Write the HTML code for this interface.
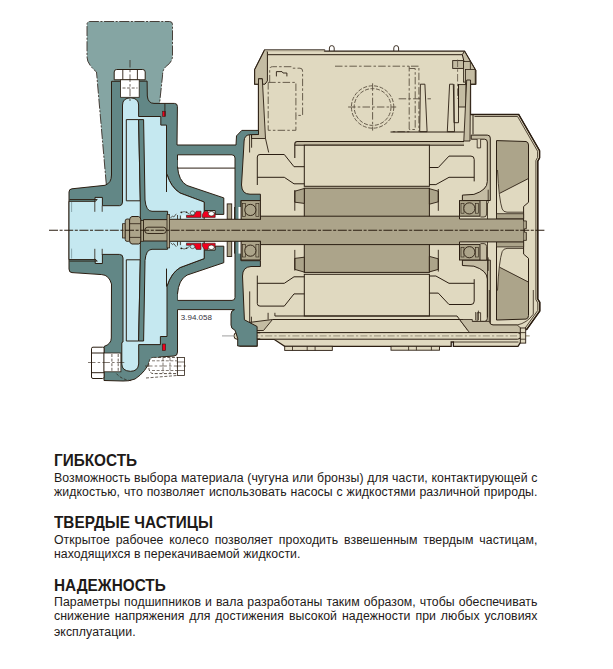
<!DOCTYPE html>
<html><head><meta charset="utf-8"><style>
html,body{margin:0;padding:0;background:#fff;}
body{width:613px;height:669px;position:relative;overflow:hidden;font-family:"Liberation Sans",sans-serif;color:#1e1a18;}
</style></head><body>
<svg width="613" height="669" viewBox="0 0 613 669" style="position:absolute;left:0;top:0"><path d="M264.5,50.2 L324.5,50.2 L324.5,51.2 L464.5,51.2 L475.7,70.4 L475.7,84.2 L470.5,84.2 L470.5,114.5 L518.7,114.5 L539.6,150.6 L539.6,157.9 L537.8,161.2 L537.8,299 L539.8,302.3 L539.8,311 L526.7,329.5 L520.7,329.5 L520.7,342 L518,346.3 L453.4,346.3 L453.4,342 L451.2,342 L451.2,346.3 L284.7,346.3 L274,339.3 L257,339.3 L257,346 L240,346 L238,200 L240,137 L258.5,130.3 L258.5,84.2 L254.7,84.2 L254.7,69.7 Z" fill="#e0d9c0" stroke="#2b1e12" stroke-width="1.3" /><path d="M264.5,50.2 L254.7,69.7 L254.7,84.2 L258.5,84.2 L258.5,78.7 L262.2,78.7 L262.2,84.2 L265,84.2 L267.4,80.9 L267.4,54.7 L267.4,51.2 Z" fill="#c4bca3" stroke="#2b1e12" stroke-width="1.0" /><path d="M264.5,50.2 L324.5,50.2 L324.5,51.2" fill="none" stroke="#2b1e12" stroke-width="1.0" /><rect x="264.8" y="50.2" width="59.7" height="1.3" rx="0" fill="#c4bca3" stroke="none" stroke-width="1.0" /><line x1="267.4" y1="54.7" x2="462.3" y2="54.7" stroke="#2b1e12" stroke-width="1.0" /><path d="M464.5,51.2 L475.7,70.4 L475.7,84.2 L470.5,84.2 L470.5,80 L466.5,80 L466.5,64 L463.8,60.7 L462.3,54.7 Z" fill="#c4bca3" stroke="#2b1e12" stroke-width="1.0" /><rect x="452.7" y="60.6" width="10.8" height="7.8" rx="0" fill="#c4bca3" stroke="#2b1e12" stroke-width="0.9" /><rect x="463.5" y="61.5" width="6.8" height="20.6" rx="0" fill="#c4bca3" stroke="#2b1e12" stroke-width="0.8" /><rect x="465.4" y="69.4" width="9.8" height="14.6" rx="0" fill="#c4bca3" stroke="#2b1e12" stroke-width="0.8" /><line x1="457.6" y1="59.6" x2="457.6" y2="98.7" stroke="#5a4f40" stroke-width="0.8" stroke-dasharray="7.5 2.2 2.5 2.2"/><rect x="458.5" y="84.6" width="7.5" height="22.4" rx="0" fill="#c4bca3" stroke="#2b1e12" stroke-width="0.9" /><path d="M258.5,78.8 L262.3,78.8 L265.5,138.5 L251.5,138.5 L251.5,134.5 L258.5,134.5 Z" fill="#c4bca3" stroke="#2b1e12" stroke-width="0.9" /><line x1="265.5" y1="138.5" x2="268.7" y2="152.5" stroke="#2b1e12" stroke-width="0.9" /><line x1="249.6" y1="134.7" x2="249.6" y2="152.5" stroke="#2b1e12" stroke-width="0.9" /><line x1="251.6" y1="134.7" x2="251.6" y2="147.7" stroke="#2b1e12" stroke-width="0.9" /><path d="M470.5,80 L466.7,80 L463.8,141 L470,141 Z" fill="#c4bca3" stroke="#2b1e12" stroke-width="0.9" /><path d="M329.40000000000003,51 L329.40000000000003,48 Q329.40000000000003,45.6 331.8,45.6 Q334.2,45.6 334.2,48 L334.2,51" fill="none" stroke="#2b1e12" stroke-width="0.9" /><path d="M393.8,51 L393.8,48 Q393.8,45.6 396.2,45.6 Q398.59999999999997,45.6 398.59999999999997,48 L398.59999999999997,51" fill="none" stroke="#2b1e12" stroke-width="0.9" /><path d="M269.7,82.4 L269.7,69 Q269.7,66.7 272.5,66.7 L291.4,66.7 L292.5,68.2 L300,68.2 Q302.6,68.2 302.6,71 L302.6,115.4 L296,115.4" fill="none" stroke="#5a4f40" stroke-width="0.9" stroke-dasharray="7.5 2.2 2.5 2.2"/><rect x="268.2" y="82.4" width="27.7" height="47.9" rx="0" fill="none" stroke="#5a4f40" stroke-width="0.9" stroke-dasharray="7.5 2.2 2.5 2.2"/><path d="M276.4,76.4 L276.4,71.6 L282,71.6 L283,73 L286.9,73 L286.9,76.4" fill="none" stroke="#2b1e12" stroke-width="0.9" /><path d="M335,66.2 L409.2,66.2 L409.2,131.7 L390.5,131.7" fill="none" stroke="#5a4f40" stroke-width="0.9" stroke-dasharray="7.5 2.2 2.5 2.2"/><path d="M409.2,68.5 L415.2,68.5 L415.2,129.5 L409.2,129.5" fill="none" stroke="#5a4f40" stroke-width="0.9" stroke-dasharray="7.5 2.2 2.5 2.2"/><path d="M411,66.2 L418.9,66.2 L418.9,131.7" fill="none" stroke="#5a4f40" stroke-width="0.9" stroke-dasharray="7.5 2.2 2.5 2.2"/><line x1="398.7" y1="98.8" x2="430.9" y2="98.8" stroke="#5a4f40" stroke-width="0.9" stroke-dasharray="7.5 2.2 2.5 2.2"/><circle cx="372.6" cy="107" r="21.2" fill="none" stroke="#5a4f40" stroke-width="0.9" stroke-dasharray="4 1.6"/><circle cx="372.6" cy="107" r="18.4" fill="none" stroke="#5a4f40" stroke-width="0.9" stroke-dasharray="4 1.6"/><line x1="348.1" y1="107" x2="396.2" y2="107" stroke="#5a4f40" stroke-width="0.9" stroke-dasharray="7.5 2.2 2.5 2.2"/><line x1="372.6" y1="83.3" x2="372.6" y2="130.6" stroke="#5a4f40" stroke-width="0.9" stroke-dasharray="7.5 2.2 2.5 2.2"/><path d="M420.4,84.2 L424.9,84.2 L427.1,131.7 L419.7,131.7 Z" fill="#e0d9c0" stroke="#2b1e12" stroke-width="0.9" /><path d="M449.6,84.2 L453.3,84.2 L454.5,131.7 L447.3,131.7 Z" fill="#e0d9c0" stroke="#2b1e12" stroke-width="0.9" /><path d="M454,84.2 L454,122.7 L458.5,122.7 L458.5,84.2" fill="none" stroke="#2b1e12" stroke-width="0.9" /><line x1="390.5" y1="132" x2="463.8" y2="132" stroke="#2b1e12" stroke-width="1.0" /><path d="M294.8,145.2 L294.8,144 Q294.8,141.5 297.3,141.5 L464,141.5 L464,145.2 Z" fill="#c4bca3" stroke="none" stroke-width="1.0" /><path d="M294.8,158 L294.8,144 Q294.8,141.5 297.3,141.5 L464,141.5" fill="none" stroke="#2b1e12" stroke-width="1.1" /><line x1="294.8" y1="145.2" x2="464" y2="145.2" stroke="#2b1e12" stroke-width="1.0" /><rect x="304.3" y="145.2" width="125.1" height="41.1" rx="0" fill="#e0d9c0" stroke="#2b1e12" stroke-width="1.0" /><rect x="304.3" y="274.3" width="125.1" height="41.69999999999999" rx="0" fill="#e0d9c0" stroke="#2b1e12" stroke-width="1.0" /><rect x="304.3" y="188.2" width="125.1" height="84.19999999999999" rx="0" fill="#aca48a" stroke="#2b1e12" stroke-width="1.0" /><path d="M294.8,191.2 L304.3,188.5 L304.3,203.4 L294.8,202.2 Z" fill="#aca48a" stroke="#2b1e12" stroke-width="0.9" /><path d="M 294.8,269.4 L 304.3,272.1 L 304.3,257.2 L 294.8,258.4 Z" fill="#aca48a" stroke="#2b1e12" stroke-width="0.9" /><path d="M294.8,190 L294.8,210.7" fill="none" stroke="#2b1e12" stroke-width="0.9" /><path d="M 294.8,270.6 L 294.8,249.9" fill="none" stroke="#2b1e12" stroke-width="0.9" /><path d="M429.4,188.7 L438.3,191.2 L438.3,201.8 L429.4,204.2 Z" fill="#aca48a" stroke="#2b1e12" stroke-width="0.9" /><path d="M 429.4,271.9 L 438.3,269.4 L 438.3,258.8 L 429.4,256.4 Z" fill="#aca48a" stroke="#2b1e12" stroke-width="0.9" /><path d="M438.3,189 L438.3,210.8" fill="none" stroke="#2b1e12" stroke-width="0.9" /><path d="M 438.3,271.6 L 438.3,249.8" fill="none" stroke="#2b1e12" stroke-width="0.9" /><path d="M257.3,185 L257.3,157 Q257.3,154.5 260,154.5 L284.3,154.5 L294,166.7 L304.3,166.7" fill="none" stroke="#2b1e12" stroke-width="1.0" /><path d="M 257.3,275.6 L 257.3,303.6 Q 257.3,306.1 260,306.1 L 284.3,306.1 L 294,293.9 L 304.3,293.9" fill="none" stroke="#2b1e12" stroke-width="1.0" /><path d="M257.3,177.3 L284.3,177.3 L294,183.8 L304.3,183.8" fill="none" stroke="#2b1e12" stroke-width="1.0" /><path d="M 257.3,283.3 L 284.3,283.3 L 294,276.8 L 304.3,276.8" fill="none" stroke="#2b1e12" stroke-width="1.0" /><path d="M429.4,167.5 L438.3,167.5 L449,156.1 L471,156.1 Q474.2,156.1 474.2,159.4 L474.2,181.4" fill="none" stroke="#2b1e12" stroke-width="1.0" /><path d="M 429.4,293.1 L 438.3,293.1 L 449,304.5 L 471,304.5 Q 474.2,304.5 474.2,301.2 L 474.2,279.2" fill="none" stroke="#2b1e12" stroke-width="1.0" /><path d="M429.4,184.6 L435.9,184.6 L449,177.3 L474.2,177.3" fill="none" stroke="#2b1e12" stroke-width="1.0" /><path d="M 429.4,276.0 L 435.9,276.0 L 449,283.3 L 474.2,283.3" fill="none" stroke="#2b1e12" stroke-width="1.0" /><path d="M471.2,135.1 L487.3,135.1 Q490.3,135.1 490.3,138.1 L490.3,200.5 L462.4,200.5 L462.4,195.1 L473.9,194.4 Q487.3,190 487.3,181.6 L487.3,142 Q487.3,139.2 484.5,139.2 L471.2,139.2 Z" fill="#c4bca3" stroke="#2b1e12" stroke-width="1.0" /><path d="M 471.2,325.5 L 487.3,325.5 Q 490.3,325.5 490.3,322.5 L 490.3,260.1 L 462.4,260.1 L 462.4,265.5 L 473.9,266.2 Q 487.3,270.6 487.3,279.0 L 487.3,318.6 Q 487.3,321.4 484.5,321.4 L 471.2,321.4 Z" fill="#c4bca3" stroke="#2b1e12" stroke-width="1.0" /><path d="M488.2,189.7 L488.2,203.2" fill="none" stroke="#2b1e12" stroke-width="0.8" /><path d="M 488.2,270.9 L 488.2,257.4" fill="none" stroke="#2b1e12" stroke-width="0.8" /><path d="M477.2,139.2 L477.2,147.9 L480.6,147.9 L480.6,139.2" fill="#e0d9c0" stroke="#2b1e12" stroke-width="0.8" /><path d="M 477.2,321.4 L 477.2,312.7 L 480.6,312.7 L 480.6,321.4" fill="#e0d9c0" stroke="#2b1e12" stroke-width="0.8" /><path d="M480.5,200.5 L486.6,200.5 L486.6,214 Q486.6,217 484,217 L480.5,217" fill="#c4bca3" stroke="#2b1e12" stroke-width="0.8" /><path d="M 480.5,260.1 L 486.6,260.1 L 486.6,246.6 Q 486.6,243.6 484,243.6 L 480.5,243.6" fill="#c4bca3" stroke="#2b1e12" stroke-width="0.8" /><path d="M496.5,140.6 L526,141.5 Q528.5,142 528.5,145 L528.5,178.5 L499.7,193.3 L497.5,170 L496.5,170 Z" fill="#aca48a" stroke="none" stroke-width="1.0" /><path d="M 496.5,320.0 L 526,319.1 Q 528.5,318.6 528.5,315.6 L 528.5,282.1 L 499.7,267.3 L 497.5,290.6 L 496.5,290.6 Z" fill="#aca48a" stroke="none" stroke-width="1.0" /><path d="M496.5,218.8 L496.5,140.6 L526,141.5 Q528.5,142 528.5,145 L528.5,202.3 L523.6,206.5 L523.6,218.8" fill="none" stroke="#2b1e12" stroke-width="1.0" /><path d="M 496.5,241.8 L 496.5,320.0 L 526,319.1 Q 528.5,318.6 528.5,315.6 L 528.5,258.3 L 523.6,254.1 L 523.6,241.8" fill="none" stroke="#2b1e12" stroke-width="1.0" /><path d="M528.5,178.5 L499.7,193.3" fill="none" stroke="#2b1e12" stroke-width="0.9" /><path d="M 528.5,282.1 L 499.7,267.3" fill="none" stroke="#2b1e12" stroke-width="0.9" /><path d="M497.5,170 Q499,200 502.2,209 Q503.5,212.2 507,212.2 L523.6,212.2" fill="none" stroke="#2b1e12" stroke-width="0.8" /><path d="M 497.5,290.6 Q 499,260.6 502.2,251.6 Q 503.5,248.4 507,248.4 L 523.6,248.4" fill="none" stroke="#2b1e12" stroke-width="0.8" /><path d="M496.5,213.7 L523.6,213.7 L523.6,219 L496.5,219 Z" fill="#aca48a" stroke="#2b1e12" stroke-width="0.8" /><path d="M 496.5,246.9 L 523.6,246.9 L 523.6,241.6 L 496.5,241.6 Z" fill="#aca48a" stroke="#2b1e12" stroke-width="0.8" /><path d="M473,114.5 L518.7,114.5 L539.6,150.6 L539.6,157.9 L537.8,161.2 L537.8,299 L539.8,302.3 L539.8,311 L526.7,329.5" fill="none" stroke="#2b1e12" stroke-width="1.1" /><path d="M474.5,116.5 L517.6,116.5 L537.6,151.2 L537.6,157.3 L535.9,160.5 L535.9,299.6 L537.8,302.9 L537.8,310.4 L525.2,328" fill="none" stroke="#2b1e12" stroke-width="0.8" /><path d="M473,114.5 L473,134.3" fill="none" stroke="#2b1e12" stroke-width="1.0" /><path d="M489.3,290 L489.3,321 Q489.3,325 493,325 L517.2,325 Q527,323 533.3,314.2 L533.3,290" fill="none" stroke="#2b1e12" stroke-width="0.8" /><path d="M487.5,203 L487.5,317" fill="none" stroke="#2b1e12" stroke-width="0.8" /><path d="M249.7,322.4 L272.5,319.5 L263.5,330.5 L249.7,330.5 Z" fill="#c4bca3" stroke="#2b1e12" stroke-width="0.9" /><line x1="272.5" y1="319.5" x2="463" y2="319.5" stroke="#2b1e12" stroke-width="1.0" /><line x1="274.9" y1="316" x2="457" y2="316" stroke="#2b1e12" stroke-width="1.0" /><path d="M457,316 L467.8,330.4" fill="none" stroke="#2b1e12" stroke-width="1.0" /><path d="M459.6,319.5 L472.3,319.5 L472.3,321.4 L489.3,321.4 Q490,325 493,325 L517.2,325 L520.7,328 L520.7,332.6 L469.5,332.6 Z" fill="#c4bca3" stroke="#2b1e12" stroke-width="0.8" /><rect x="234" y="332.6" width="286.7" height="6.6" rx="3" fill="#e0d9c0" stroke="#2b1e12" stroke-width="1.0" /><line x1="238" y1="335.9" x2="529.7" y2="335.9" stroke="#a59e88" stroke-width="1.1" stroke-dasharray="7 2.2 2.2 2.2"/><line x1="222" y1="335.9" x2="234" y2="335.9" stroke="#a8a8a8" stroke-width="1.1" /><rect x="520.3" y="328" width="5.4" height="15.1" rx="0" fill="#e0d9c0" stroke="#2b1e12" stroke-width="0.9" /><line x1="520.3" y1="332.6" x2="525.7" y2="332.6" stroke="#2b1e12" stroke-width="0.8" /><line x1="520.3" y1="339.2" x2="525.7" y2="339.2" stroke="#2b1e12" stroke-width="0.8" /><line x1="237.7" y1="332.6" x2="260.2" y2="332.6" stroke="#2b1e12" stroke-width="1.4" /><line x1="237.7" y1="339.2" x2="260.2" y2="339.2" stroke="#2b1e12" stroke-width="1.4" /><line x1="453.4" y1="342" x2="518.5" y2="342" stroke="#2b1e12" stroke-width="0.8" /><rect x="284.7" y="346.3" width="47.6" height="4.1" rx="0" fill="#e0d9c0" stroke="#2b1e12" stroke-width="0.9" /><line x1="292.5" y1="346.3" x2="292.5" y2="350.4" stroke="#2b1e12" stroke-width="0.8" /><line x1="307.2" y1="346.3" x2="307.2" y2="350.4" stroke="#2b1e12" stroke-width="0.8" /><line x1="315.1" y1="346.3" x2="315.1" y2="350.4" stroke="#2b1e12" stroke-width="0.8" /><rect x="391" y="346.3" width="48.5" height="3.9" rx="0" fill="#e0d9c0" stroke="#2b1e12" stroke-width="0.9" /><line x1="408.6" y1="346.3" x2="408.6" y2="350.2" stroke="#2b1e12" stroke-width="0.8" /><line x1="416.4" y1="346.3" x2="416.4" y2="350.2" stroke="#2b1e12" stroke-width="0.8" /><line x1="431.4" y1="346.3" x2="431.4" y2="350.2" stroke="#2b1e12" stroke-width="0.8" /><line x1="249.7" y1="291.4" x2="249.7" y2="325.8" stroke="#2b1e12" stroke-width="0.9" /><line x1="251.4" y1="316.7" x2="251.4" y2="322.6" stroke="#2b1e12" stroke-width="0.9" /><line x1="268.1" y1="312.8" x2="268.1" y2="319.5" stroke="#2b1e12" stroke-width="0.9" /><line x1="274.9" y1="312.8" x2="274.9" y2="316" stroke="#2b1e12" stroke-width="0.9" /><line x1="478.4" y1="310.6" x2="478.4" y2="320.3" stroke="#2b1e12" stroke-width="0.8" /><line x1="475.7" y1="312" x2="475.7" y2="320.3" stroke="#2b1e12" stroke-width="0.8" /><path d="M87,24.5 Q87,21.5 90,21.5 L169.5,21.5 Q172.5,21.5 172.5,24.5 L172.5,56 Q172.5,62 166,66.5 Q162.5,69.5 162.5,76 L159.5,106 L112,106 L112,190 L106.3,186 L96.5,72 Q87,64 87,57 Z" fill="#85a5a3" stroke="none" stroke-width="1.0" /><path d="M106.3,184.4 L96.5,72 Q87,64 87,57 L87,24.5 Q87,21.5 90,21.5 L169.5,21.5 Q172.5,21.5 172.5,24.5 L172.5,56 Q172.5,62 166,66.5 Q162.5,69.5 162.5,76 L159.5,104" fill="none" stroke="#3a2f28" stroke-width="0.9" stroke-dasharray="10 1.6 2 1.6"/><path d="M111.5,81.3 L147.1,81.1 L147.3,96 Q148,103.4 154,103.4 L174.4,103.4 Q177.4,103.4 177.4,106.4 L177,145 L236,145 L236.5,135.9 L241.8,130.4 L258.5,130.4 L258.5,134.5 L249.6,134.7 Q244.3,135.3 244.1,141 L243.6,150 L241.5,185 Q241.8,194.2 250,194.2 L260.4,194.2 L260.4,200.6 L241.1,200.6 L241.1,260.7 L260.4,260.7 L260.4,266.5 L251,266.5 Q242.5,267 242.5,276 L244.4,319.8 L257.1,326.5 L257.1,346 L237.7,346 L237.7,338.5 L236,333 L234.8,330 Q231,329 231,325 L231,314 Q231,310.5 234.5,309.6 L177.5,309.6 L177.5,352 Q177.5,356 174,356 L160,357 L150.5,359.6 Q146,372 135,379 Q128,381.5 123,381 L104,380.5 L104,346.5 Q111.3,344 111.3,338 L111.5,284 Q109,275 101.8,274.6 L72,272.6 Q69,272.6 69,269 L69,192 Q69,189 72,188.8 L105,185.3 Q111.5,183 111.5,175 Z" fill="#628786" stroke="#2b1e12" stroke-width="1.0" /><path d="M177.5,154.8 L232,154.8 Q235,155 235,158 L235,297.5 Q235,300.4 232,300.4 L177.5,300.4 Z" fill="#ffffff" stroke="#2b1e12" stroke-width="1.0" /><line x1="177.5" y1="168.1" x2="235" y2="168.1" stroke="#2b1e12" stroke-width="1.0" /><rect x="205" y="197" width="29" height="66.6" rx="0" fill="#ffffff" stroke="none" stroke-width="1.0" /><path d="M238.5,207 L241.1,207 L241.1,219.3 L238.5,219.3 Z" fill="#ffffff" stroke="none" stroke-width="1.0" /><path d="M 238.5,253.6 L 241.1,253.6 L 241.1,241.3 L 238.5,241.3 Z" fill="#ffffff" stroke="none" stroke-width="1.0" /><path d="M234.5,207 L234.5,219.3" fill="none" stroke="#2b1e12" stroke-width="0.9" /><path d="M 234.5,253.6 L 234.5,241.3" fill="none" stroke="#2b1e12" stroke-width="0.9" /><path d="M177.5,160 L177.5,166.6 Q178.5,181 187,185.5 L223.8,197.9 L223.8,214.4 L215.2,214.4 L215.2,210.5 L204.2,210.5 L204.2,202 L180,193 Q171,187.5 167,174.4 L167,160 Z" fill="#628786" stroke="none" stroke-width="1.0" /><path d="M 177.5,300.6 L 177.5,294.0 Q 178.5,279.6 187,275.1 L 223.8,262.7 L 223.8,246.2 L 215.2,246.2 L 215.2,250.1 L 204.2,250.1 L 204.2,258.6 L 180,267.6 Q 171,273.1 167,286.2 L 167,300.6 Z" fill="#628786" stroke="none" stroke-width="1.0" /><path d="M177.5,166.6 Q178.5,181 187,185.5 L223.8,197.9 L223.8,214.4 L215.2,214.4 L215.2,210.5 L204.2,210.5 L204.2,202 L180,193 Q171,187.5 167,174.4" fill="none" stroke="#2b1e12" stroke-width="1.0" /><path d="M 177.5,294.0 Q 178.5,279.6 187,275.1 L 223.8,262.7 L 223.8,246.2 L 215.2,246.2 L 215.2,250.1 L 204.2,250.1 L 204.2,258.6 L 180,267.6 Q 171,273.1 167,286.2" fill="none" stroke="#2b1e12" stroke-width="1.0" /><path d="M69,201.3 L95,201.3 L95,197.4 L102.4,197.4 L102.4,205.7 L119.5,205.7 Q122.5,205.5 122.5,202 L122.5,105 Q122.5,98.2 130.5,97.8 Q138.6,98.2 138.6,105 L138.6,116.5 L160.8,116.5 L160.8,125.1 L166.5,125.1 L166.5,174 L167,174.4 Q171,187.5 180,193 L204.2,202 L204.2,258.6 L180,267.6 Q171,273.1 167,286.2 L167,336.5 L160.4,336.5 L160.4,344.6 L138.7,344.6 L138.7,364 Q138,371.3 130.5,371.3 Q121.8,371 121.8,364 L121.8,342.6 L123,342 L123,258 Q123,254.4 119.4,254.4 L102.4,254.4 L102.4,263.5 L95.2,263.5 L95.2,259.6 L69,259.6 Z" fill="#c5e8f0" stroke="#2b1e12" stroke-width="1.0" /><line x1="166.5" y1="174" x2="166.5" y2="192" stroke="#2b1e12" stroke-width="1.0" /><line x1="166.5" y1="286.6" x2="166.5" y2="268.6" stroke="#2b1e12" stroke-width="1.0" /><path d="M69.5,199.5 L97.3,199.5 L94.8,201.7" fill="none" stroke="#2b1e12" stroke-width="0.9" /><path d="M 69.5,261.1 L 97.3,261.1 L 94.8,258.9" fill="none" stroke="#2b1e12" stroke-width="0.9" /><path d="M94.8,201.3 L94.8,211.8" fill="none" stroke="#2b1e12" stroke-width="0.8" /><path d="M 94.8,259.3 L 94.8,248.8" fill="none" stroke="#2b1e12" stroke-width="0.8" /><path d="M102.2,205.7 L102.2,211.8" fill="none" stroke="#2b1e12" stroke-width="0.8" /><path d="M 102.2,254.9 L 102.2,248.8" fill="none" stroke="#2b1e12" stroke-width="0.8" /><path d="M71.6,202 L71.6,212" fill="none" stroke="#8aa9b0" stroke-width="1.0" /><path d="M 71.6,258.6 L 71.6,248.6" fill="none" stroke="#8aa9b0" stroke-width="1.0" /><path d="M126.3,119.6 L138.6,119.6 L140.3,200.8 L126.3,200.8 Z" fill="#c5e8f0" stroke="#2b1e12" stroke-width="1.0" /><path d="M 126.3,341.0 L 138.6,341.0 L 140.3,259.8 L 126.3,259.8 Z" fill="#c5e8f0" stroke="#2b1e12" stroke-width="1.0" /><path d="M138.6,119.6 L143.6,119.6 L145,200 Q146,211.3 152,211.3 L167.6,211.3 L167.6,249.3 L152,249.3 Q146,249.3 145,260.6 L143.6,341.0 L138.6,341.0 L140.3,259.8 L140.3,200.8 Z" fill="#628786" stroke="#2b1e12" stroke-width="1.0" /><path d="M114.2,79.8 L114.2,72 Q114.2,69.5 116.7,69.5 L142.7,69.5 Q145.2,69.5 145.2,72 L145.2,79.8 Z" fill="#ffffff" stroke="#2b1e12" stroke-width="1.0" /><line x1="122.8" y1="69.5" x2="122.8" y2="79.8" stroke="#2b1e12" stroke-width="0.9" /><line x1="137.4" y1="69.5" x2="137.4" y2="79.8" stroke="#2b1e12" stroke-width="0.9" /><rect x="120.6" y="79.8" width="18.6" height="17.5" rx="0" fill="#ffffff" stroke="#2b1e12" stroke-width="0.8" /><line x1="122.5" y1="88" x2="137.5" y2="88" stroke="#2b1e12" stroke-width="0.7" stroke-dasharray="3 1.6"/><line x1="130" y1="60" x2="130" y2="102" stroke="#2b1e12" stroke-width="0.7" stroke-dasharray="7.5 2.2 2.5 2.2"/><rect x="162.5" y="111.2" width="2.9" height="5.3" rx="0" fill="#f0001e" stroke="#2b1e12" stroke-width="0.5" /><line x1="164.9" y1="103.4" x2="164.9" y2="116.5" stroke="#2b1e12" stroke-width="0.9" /><rect x="162.3" y="344" width="3.2" height="6.5" rx="0" fill="#f0001e" stroke="#2b1e12" stroke-width="0.6" /><rect x="91.5" y="347.2" width="12.6" height="31.3" rx="1.5" fill="#ffffff" stroke="#2b1e12" stroke-width="1.0" /><line x1="91.5" y1="353" x2="104" y2="353" stroke="#2b1e12" stroke-width="1.0" /><line x1="91.5" y1="372.7" x2="104" y2="372.7" stroke="#2b1e12" stroke-width="1.0" /><rect x="104" y="353" width="16.9" height="18.8" rx="0" fill="#ffffff" stroke="#2b1e12" stroke-width="0.8" /><line x1="111.9" y1="354" x2="111.9" y2="371" stroke="#2b1e12" stroke-width="0.7" stroke-dasharray="3 1.6"/><line x1="118.2" y1="354" x2="118.2" y2="371" stroke="#2b1e12" stroke-width="0.7" stroke-dasharray="3 1.6"/><path d="M116.4,373.6 Q122,380 132.5,380.8" fill="none" stroke="#2b1e12" stroke-width="0.7" stroke-dasharray="3 1.6"/><path d="M146,378 L178.3,375.4" fill="none" stroke="#2b1e12" stroke-width="0.7" stroke-dasharray="3 1.6"/><line x1="88" y1="362.5" x2="125" y2="362.5" stroke="#2b1e12" stroke-width="0.6" stroke-dasharray="7.5 2.2 2.5 2.2"/><path d="M153.5,357.4 L177.4,357.4 L177.4,373.6 L153.5,373.6 Q148.7,373.6 148.7,365.5 Q148.7,357.4 153.5,357.4 Z" fill="#ffffff" stroke="#2b1e12" stroke-width="0.8" stroke-dasharray="3 1.6"/><rect x="177.4" y="357.4" width="7.2" height="18" rx="0" fill="#ffffff" stroke="#2b1e12" stroke-width="0.8" /><line x1="152" y1="360.8" x2="177" y2="360.8" stroke="#2b1e12" stroke-width="0.6" stroke-dasharray="3 1.6"/><line x1="152" y1="370.5" x2="177" y2="370.5" stroke="#2b1e12" stroke-width="0.6" stroke-dasharray="3 1.6"/><line x1="163" y1="358" x2="163" y2="373" stroke="#2b1e12" stroke-width="0.6" stroke-dasharray="3 1.6"/><line x1="170" y1="358" x2="170" y2="373" stroke="#2b1e12" stroke-width="0.6" stroke-dasharray="3 1.6"/><line x1="177.4" y1="362" x2="184.6" y2="362" stroke="#2b1e12" stroke-width="0.6" /><line x1="177.4" y1="370.5" x2="184.6" y2="370.5" stroke="#2b1e12" stroke-width="0.6" /><line x1="145" y1="366" x2="188" y2="366" stroke="#2b1e12" stroke-width="0.6" stroke-dasharray="7.5 2.2 2.5 2.2"/><path d="M186.5,217.4 L186.5,215.3 L194,215.3 L196.3,211.2 L201,211.2 L201,217.4 Z" fill="#f0001e" stroke="#2b1e12" stroke-width="0.6" /><path d="M202.3,217.4 L202.3,214.5 L204.5,211.2 L208,211.2 L208.5,213 L215.2,213 L215.2,217.4 Z" fill="#f0001e" stroke="#2b1e12" stroke-width="0.6" /><path d="M 186.5,243.2 L 186.5,245.3 L 194,245.3 L 196.3,249.4 L 201,249.4 L 201,243.2 Z" fill="#f0001e" stroke="#2b1e12" stroke-width="0.6" /><path d="M 202.3,243.2 L 202.3,246.1 L 204.5,249.4 L 208,249.4 L 208.5,247.6 L 215.2,247.6 L 215.2,243.2 Z" fill="#f0001e" stroke="#2b1e12" stroke-width="0.6" /><ellipse cx="211.3" cy="213.7" rx="3" ry="2.3" fill="#ffffff" stroke="#2b1e12" stroke-width="0.7"/><ellipse cx="192.5" cy="213.0" rx="2.3" ry="2" fill="#c5e8f0" stroke="#2b1e12" stroke-width="0.6"/><ellipse cx="211.3" cy="247.29999999999998" rx="3" ry="2.3" fill="#ffffff" stroke="#2b1e12" stroke-width="0.7"/><ellipse cx="192.5" cy="246.6" rx="2.3" ry="2" fill="#c5e8f0" stroke="#2b1e12" stroke-width="0.6"/><path d="M170.5,218 L172.5,216 L173.8,217 L176.3,213.8" fill="none" stroke="#2b1e12" stroke-width="0.7" /><path d="M 170.5,242.6 L 172.5,244.6 L 173.8,243.6 L 176.3,246.8" fill="none" stroke="#2b1e12" stroke-width="0.7" /><path d="M177.5,215 L177.5,219.2" fill="none" stroke="#2b1e12" stroke-width="0.8" /><path d="M 177.5,245.6 L 177.5,241.4" fill="none" stroke="#2b1e12" stroke-width="0.8" /><path d="M180.4,215.5 L180.4,219.2" fill="none" stroke="#2b1e12" stroke-width="0.8" /><path d="M 180.4,245.1 L 180.4,241.4" fill="none" stroke="#2b1e12" stroke-width="0.8" /><path d="M181.5,216.5 Q181.5,215 183.5,215 Q185.8,215 185.8,216.8 L185.8,219 L181.5,219 Z" fill="#e4f4f8" stroke="none" stroke-width="1.0" /><path d="M 181.5,244.1 Q 181.5,245.6 183.5,245.6 Q 185.8,245.6 185.8,243.8 L 185.8,241.6 L 181.5,241.6 Z" fill="#e4f4f8" stroke="none" stroke-width="1.0" /><path d="M182,212.2 Q184,211 186.3,212.2 L189.5,214" fill="none" stroke="#2b1e12" stroke-width="0.6" /><path d="M 182,248.4 Q 184,249.6 186.3,248.4 L 189.5,246.6" fill="none" stroke="#2b1e12" stroke-width="0.6" /><circle cx="181.3" cy="212.3" r="0.9" fill="#2b1e12" stroke="none" stroke-width="1.0" /><circle cx="186.6" cy="212.3" r="0.8" fill="#2b1e12" stroke="none" stroke-width="1.0" /><circle cx="181.3" cy="248.3" r="0.9" fill="#2b1e12" stroke="none" stroke-width="1.0" /><circle cx="186.6" cy="248.3" r="0.8" fill="#2b1e12" stroke="none" stroke-width="1.0" /><rect x="227.2" y="203.9" width="4.5" height="15.4" rx="0" fill="#aca48a" stroke="#2b1e12" stroke-width="0.9" /><rect x="227.2" y="241.3" width="4.5" height="15.2" rx="0" fill="#aca48a" stroke="#2b1e12" stroke-width="0.9" /><path d="M143.5,219.6 L167.6,219.6 L167.6,219.3 L260.4,219.3 L260.4,216.2 L459.5,216.2 L459.5,219 L523.6,219 L523.6,241.9 L459.5,241.9 L459.5,244.6 L260.4,244.6 L260.4,241.3 L167.6,241.3 L167.6,241 L143.5,241 Z" fill="#aca48a" stroke="#2b1e12" stroke-width="1.0" /><path d="M523.6,220.9 L526.4,220.9 L526.4,228.7 L524.5,228.7 L524.5,232.3 L526.4,232.3 L526.4,240.4 L523.6,240.4" fill="#aca48a" stroke="#2b1e12" stroke-width="0.8" /><rect x="167" y="214.6" width="2.6" height="33.3" rx="0" fill="#aca48a" stroke="#2b1e12" stroke-width="0.8" /><rect x="144.8" y="227.2" width="21.5" height="6.3" rx="3" fill="#aca48a" stroke="#2b1e12" stroke-width="0.9" /><rect x="122.6" y="223.7" width="3" height="14.3" rx="0" fill="#aca48a" stroke="#2b1e12" stroke-width="0.8" /><rect x="125.2" y="219" width="5" height="22.4" rx="2" fill="#aca48a" stroke="#2b1e12" stroke-width="0.9" /><path d="M132,216.5 L138.5,216.5 Q140.9,217 140.9,220 L140.9,240.6 Q140.9,243.6 138.5,244 L132,244 Q129.6,243.6 129.6,240.6 L129.6,220 Q129.6,217 132,216.5 Z" fill="#aca48a" stroke="#2b1e12" stroke-width="1.0" /><line x1="129.6" y1="223.7" x2="140.9" y2="223.7" stroke="#2b1e12" stroke-width="0.8" /><line x1="129.6" y1="237.4" x2="140.9" y2="237.4" stroke="#2b1e12" stroke-width="0.8" /><rect x="140.9" y="220.5" width="2.6" height="20.8" rx="0" fill="#aca48a" stroke="#2b1e12" stroke-width="0.8" /><rect x="241.1" y="200.6" width="19.3" height="18.700000000000017" rx="0" fill="#aca48a" stroke="#2b1e12" stroke-width="1.0" /><rect x="242.6" y="203.6" width="3" height="12.700000000000017" rx="0" fill="#aca48a" stroke="#2b1e12" stroke-width="0.6" /><rect x="255.89999999999998" y="203.6" width="3" height="12.700000000000017" rx="0" fill="#aca48a" stroke="#2b1e12" stroke-width="0.6" /><circle cx="250.35" cy="209.95" r="5.6" fill="#aca48a" stroke="#2b1e12" stroke-width="0.9" /><rect x="241.1" y="241.3" width="19.3" height="18.69999999999999" rx="0" fill="#aca48a" stroke="#2b1e12" stroke-width="1.0" /><rect x="242.6" y="244.3" width="3" height="12.699999999999989" rx="0" fill="#aca48a" stroke="#2b1e12" stroke-width="0.6" /><rect x="255.89999999999998" y="244.3" width="3" height="12.699999999999989" rx="0" fill="#aca48a" stroke="#2b1e12" stroke-width="0.6" /><circle cx="250.35" cy="250.65" r="5.6" fill="#aca48a" stroke="#2b1e12" stroke-width="0.9" /><rect x="459.5" y="200.6" width="20.5" height="15.599999999999994" rx="0" fill="#aca48a" stroke="#2b1e12" stroke-width="1.0" /><rect x="461.0" y="203.6" width="3" height="9.599999999999994" rx="0" fill="#aca48a" stroke="#2b1e12" stroke-width="0.6" /><rect x="475.5" y="203.6" width="3" height="9.599999999999994" rx="0" fill="#aca48a" stroke="#2b1e12" stroke-width="0.6" /><circle cx="469.35" cy="208.39999999999998" r="5.6" fill="#aca48a" stroke="#2b1e12" stroke-width="0.9" /><rect x="459.5" y="244.4" width="20.5" height="15.599999999999994" rx="0" fill="#aca48a" stroke="#2b1e12" stroke-width="1.0" /><rect x="461.0" y="247.4" width="3" height="9.599999999999994" rx="0" fill="#aca48a" stroke="#2b1e12" stroke-width="0.6" /><rect x="475.5" y="247.4" width="3" height="9.599999999999994" rx="0" fill="#aca48a" stroke="#2b1e12" stroke-width="0.6" /><circle cx="469.35" cy="252.2" r="5.6" fill="#aca48a" stroke="#2b1e12" stroke-width="0.9" /><line x1="49" y1="230.3" x2="545" y2="230.3" stroke="#2b1e12" stroke-width="1.1" stroke-dasharray="9 1.6 3 1.6"/><text x="180.8" y="319.8" font-family="Liberation Sans" font-size="8" fill="#34303c">3.94.058</text></svg>
<div style="position:absolute;left:54px;top:452.32px;font-size:16.4px;line-height:1;white-space:pre;letter-spacing:0px;word-spacing:0.000px;font-weight:bold;transform:scaleX(0.935);transform-origin:0 0;">ГИБКОСТЬ</div><div style="position:absolute;left:54px;top:471.59px;font-size:12.3px;line-height:1;white-space:pre;letter-spacing:0.06px;word-spacing:0.217px;">Возможность выбора материала (чугуна или бронзы) для части, контактирующей с</div><div style="position:absolute;left:54px;top:485.59px;font-size:12.3px;line-height:1;white-space:pre;letter-spacing:0.06px;word-spacing:0.363px;">жидкостью, что позволяет использовать насосы с жидкостями различной природы.</div><div style="position:absolute;left:54px;top:514.22px;font-size:16.4px;line-height:1;white-space:pre;letter-spacing:0px;word-spacing:0.000px;font-weight:bold;transform:scaleX(0.935);transform-origin:0 0;">ТВЕРДЫЕ ЧАСТИЦЫ</div><div style="position:absolute;left:54px;top:533.59px;font-size:12.3px;line-height:1;white-space:pre;letter-spacing:0.06px;word-spacing:2.304px;">Открытое рабочее колесо позволяет проходить взвешенным твердым частицам,</div><div style="position:absolute;left:54px;top:548.19px;font-size:12.3px;line-height:1;white-space:pre;letter-spacing:0.06px;word-spacing:0.000px;">находящихся в перекачиваемой жидкости.</div><div style="position:absolute;left:54px;top:576.92px;font-size:16.4px;line-height:1;white-space:pre;letter-spacing:0px;word-spacing:0.000px;font-weight:bold;transform:scaleX(0.935);transform-origin:0 0;">НАДЕЖНОСТЬ</div><div style="position:absolute;left:54px;top:595.59px;font-size:12.3px;line-height:1;white-space:pre;letter-spacing:0.06px;word-spacing:0.486px;">Параметры подшипников и вала разработаны таким образом, чтобы обеспечивать</div><div style="position:absolute;left:54px;top:609.99px;font-size:12.3px;line-height:1;white-space:pre;letter-spacing:0.06px;word-spacing:1.416px;">снижение напряжения для достижения высокой надежности при любых условиях</div><div style="position:absolute;left:54px;top:625.59px;font-size:12.3px;line-height:1;white-space:pre;letter-spacing:0.06px;word-spacing:0.000px;">эксплуатации.</div>
</body></html>
